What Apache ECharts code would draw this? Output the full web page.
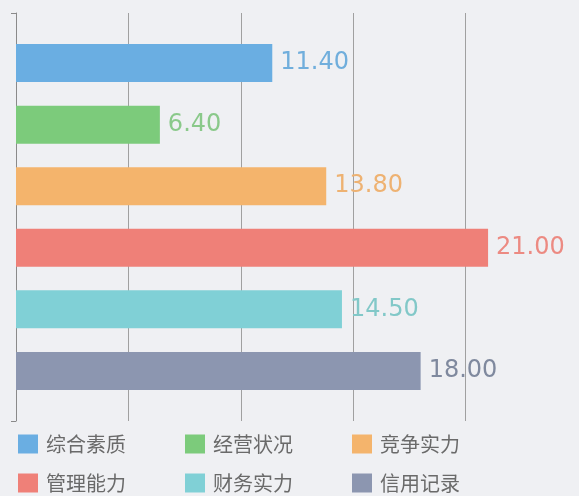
<!DOCTYPE html>
<html>
<head>
<meta charset="utf-8">
<script src="https://cdn.jsdelivr.net/npm/echarts@6/dist/echarts.min.js"></script>
<style>
  html, body { margin: 0; padding: 0; background: #eff0f3; }
  #chart { width: 579px; height: 496px; }
</style>
</head>
<body>
<div id="chart"></div>
<script>
// 各项评分
const names = ['综合素质', '经营状况', '竞争实力', '管理能力', '财务实力', '信用记录'];
const values = [11.40, 6.40, 13.80, 21.00, 14.50, 18.00];
const barColors = ['#6aaee2', '#7ccb7b', '#f4b46c', '#ef8078', '#80d0d6', '#8c96b0'];
const labelColors = ['#70aedc', '#8ac98a', '#eeb272', '#ec8a82', '#82c8c8', '#7f899e'];
const xTicks = [0, 5, 10, 15, 20, 25];

const chart = echarts.init(document.getElementById('chart'));

const series = names.map((name, i) => ({
    name: name,
    type: 'bar',
    data: [values[i]],
    barWidth: 38,
    barGap: '62%',
    itemStyle: { color: barColors[i] },
    label: {
        show: true,
        position: 'right',
        distance: 8,
        color: labelColors[i],
        fontFamily: 'DejaVu Sans',
        fontSize: 24,
        formatter: p => p.value.toFixed(2)
    }
}));

const legendBase = {
    left: 18,
    padding: 0,
    itemWidth: 20,
    itemHeight: 19,
    itemGap: 59,
    icon: 'rect',
    selectedMode: false,
    textStyle: {
        color: '#6a6a6a',
        fontSize: 20,
        fontFamily: 'Noto Sans CJK SC',
        padding: [0, 0, 0, 3]
    }
};

chart.setOption({
    animation: false,
    grid: { left: 16, right: 1, top: 13, bottom: 75 },
    legend: [
        Object.assign({}, legendBase, { top: 434, data: names.slice(0, 3) }),
        Object.assign({}, legendBase, { top: 473, data: names.slice(3) })
    ],
    xAxis: {
        type: 'value',
        min: xTicks[0],
        max: xTicks[xTicks.length - 1],
        interval: 5,
        axisLine: { show: false },
        axisTick: { show: false },
        axisLabel: { show: false },
        splitLine: { show: true, showMaxLine: false, lineStyle: { color: '#a0a0a0', width: 1 } }
    },
    yAxis: {
        type: 'category',
        data: ['评分'],
        inverse: true,
        axisLine: { show: true, lineStyle: { color: '#8a8a8a' } },
        axisTick: { show: true, length: 5, lineStyle: { color: '#8a8a8a' } },
        axisLabel: { show: false }
    },
    series: series
});
</script>
</body>
</html>
